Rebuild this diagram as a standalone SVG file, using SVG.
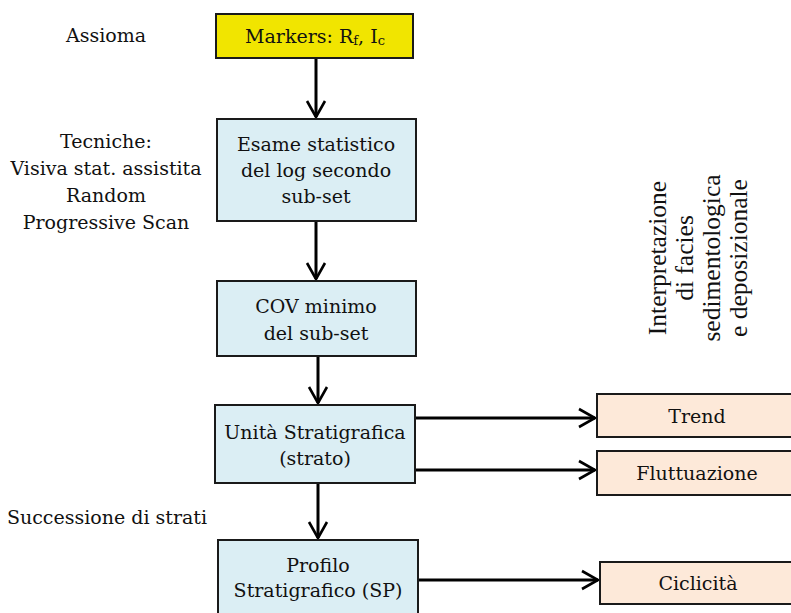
<svg xmlns="http://www.w3.org/2000/svg" width="791" height="613" viewBox="0 0 791 613">
  <style>
    .box { stroke: #1a1a1a; stroke-width: 2; }
    .axiom { fill: #F1E500; }
    .step { fill: #DBEEF4; }
    .out { fill: #FDE9D9; }
    .t { font-family: "DejaVu Serif", "Liberation Serif", serif; font-size: 19px; fill: #111; text-anchor: middle; }
    .side { font-family: "Liberation Serif", serif; font-size: 25.5px; fill: #111; text-anchor: middle; }
    .link { stroke: #000; stroke-width: 3; fill: none; marker-end: url(#arrow); }
  </style>
  <defs>
    <marker id="arrow" markerUnits="userSpaceOnUse" markerWidth="24" markerHeight="24" viewBox="-20 -12 24 24" refX="0" refY="0" orient="auto">
      <path d="M -16 -9 L 0 0 L -16 9" fill="none" stroke="#000" stroke-width="2.6"/>
    </marker>
  </defs>

  <!-- side labels -->
  <g id="labels">
    <text class="t" x="106" y="42">Assioma</text>
    <text class="t" x="106" y="148">Tecniche:</text>
    <text class="t" x="106" y="175">Visiva stat. assistita</text>
    <text class="t" x="106" y="202">Random</text>
    <text class="t" x="106" y="229">Progressive Scan</text>
    <text class="t" x="107" y="524">Successione di strati</text>
  </g>

  <g id="interpretazione">
    <g transform="translate(0,258) rotate(-90)">
      <text class="side" x="0" y="666">Interpretazione</text>
      <text class="side" x="0" y="693">di facies</text>
      <text class="side" x="0" y="720">sedimentologica</text>
      <text class="side" x="0" y="746.5">e deposizionale</text>
    </g>
  </g>

  <!-- connectors -->
  <g id="connectors">
    <line class="link" x1="316" y1="58" x2="316" y2="117"/>
    <line class="link" x1="316" y1="221" x2="316" y2="279"/>
    <line class="link" x1="318" y1="356" x2="318" y2="403"/>
    <line class="link" x1="318" y1="483" x2="318" y2="538"/>
    <line class="link" x1="415" y1="418" x2="595" y2="418"/>
    <line class="link" x1="415" y1="470" x2="595" y2="470"/>
    <line class="link" x1="418" y1="580" x2="598" y2="580"/>
  </g>

  <!-- nodes -->
  <g id="markers">
    <rect class="box axiom" x="216" y="14" width="197" height="44"/>
    <text class="t" x="315" y="43">Markers: R<tspan font-size="13" dy="1.5">f</tspan><tspan dy="-1.5">, I</tspan><tspan font-size="13" dy="1.5">c</tspan></text>
  </g>
  <g id="esame">
    <rect class="box step" x="217" y="119" width="199" height="102"/>
    <text class="t" x="316" y="151">Esame statistico</text>
    <text class="t" x="316" y="177">del log secondo</text>
    <text class="t" x="316" y="203">sub-set</text>
  </g>
  <g id="cov">
    <rect class="box step" x="217" y="281" width="199" height="75"/>
    <text class="t" x="316" y="313">COV minimo</text>
    <text class="t" x="316" y="340">del sub-set</text>
  </g>
  <g id="unita">
    <rect class="box step" x="215" y="405" width="200" height="78"/>
    <text class="t" x="315" y="439">Unità Stratigrafica</text>
    <text class="t" x="315" y="465">(strato)</text>
  </g>
  <g id="profilo">
    <rect class="box step" x="218" y="540" width="200" height="90"/>
    <text class="t" x="318" y="572">Profilo</text>
    <text class="t" x="318" y="597">Stratigrafico (SP)</text>
  </g>
  <g id="trend">
    <rect class="box out" x="597" y="394" width="210" height="43"/>
    <text class="t" x="697" y="423">Trend</text>
  </g>
  <g id="fluttuazione">
    <rect class="box out" x="597" y="451" width="210" height="44"/>
    <text class="t" x="697" y="480">Fluttuazione</text>
  </g>
  <g id="ciclicita">
    <rect class="box out" x="600" y="562" width="210" height="42"/>
    <text class="t" x="698" y="590">Ciclicità</text>
  </g>
</svg>
